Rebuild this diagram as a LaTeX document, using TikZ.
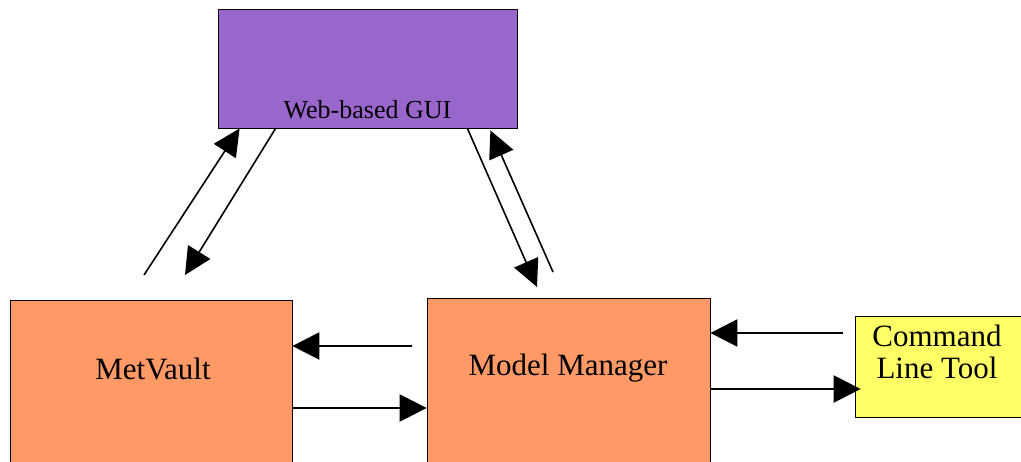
\documentclass[tikz,border=0pt]{standalone}
\usepackage{fontspec}
\setmainfont{Liberation Serif}
\usetikzlibrary{arrows.meta,calc}
\definecolor{guipurple}{HTML}{9966CC}
\definecolor{boxorange}{HTML}{FF9966}
\definecolor{cltyellow}{HTML}{FFFF66}
\begin{document}
\begin{tikzpicture}[x=1pt,y=-1pt,
  box/.style={draw=black,line width=0.8pt,rectangle,inner sep=0pt},
  bigtext/.style={font=\fontsize{31}{32}\selectfont,inner sep=0pt},
  guitext/.style={font=\fontsize{26}{28}\selectfont,inner sep=0pt},
  diag/.style={line width=1.6pt,-{Triangle[length=27pt,width=26pt]}},
  horiz/.style={line width=2.5pt,-{Triangle[length=27pt,width=27pt]}}]
\useasboundingbox (0,0) rectangle (1021,461);
\clip (0,0) rectangle (1021,461);
% boxes
\node[box,fill=guipurple,minimum width=299pt,minimum height=119pt] (gui) at (367.5,68.5) {};
\node[box,fill=boxorange,minimum width=282pt,minimum height=180pt] (mv) at (151,390) {};
\node[box,fill=boxorange,minimum width=283pt,minimum height=182pt] (mm) at (568.5,389) {};
\node[box,fill=cltyellow,minimum width=175pt,minimum height=101pt] (clt) at (942.5,366.5) {};
% labels
\node[guitext,anchor=base] (guilabel) at (367.5,118) {Web-based GUI};
\node[bigtext,anchor=base] (mvlabel) at (153,379) {MetVault};
\node[bigtext,anchor=base] (mmlabel) at (568,375) {Model Manager};
\node[bigtext,anchor=north,align=center] (cltlabel) at (937,325) {Command\\Line Tool};
% free ends
\coordinate (a1) at (144,275);
\coordinate (a2) at (185,275);
\coordinate (a3) at (537,287);
\coordinate (a4) at (553,272);
% diagonal connectors
\draw[diag] (a1) -- ($(gui.south west)+(22,0)$);
\draw[diag] ($(gui.south west)+(58,0)$) -- (a2);
\draw[diag] ($(gui.south east)+(-50,0)$) -- (a3);
\draw[diag] (a4) -- ($(gui.south east)+(-27,2)$);
% horizontal connectors
\coordinate (h1) at (412,346);
\coordinate (h2) at (292,408);
\coordinate (h3) at (843,333);
\coordinate (h4) at (710,389);
\draw[horiz] (h1) -- (h1 -| mv.east);
\draw[horiz] (h2 -| mv.east) -- (h2 -| mm.west);
\draw[horiz] (h3) -- (h3 -| mm.east);
\draw[horiz] (h4 -| mm.east) -- ($(h4 -| clt.west)+(6,0)$);
\end{tikzpicture}
\end{document}
